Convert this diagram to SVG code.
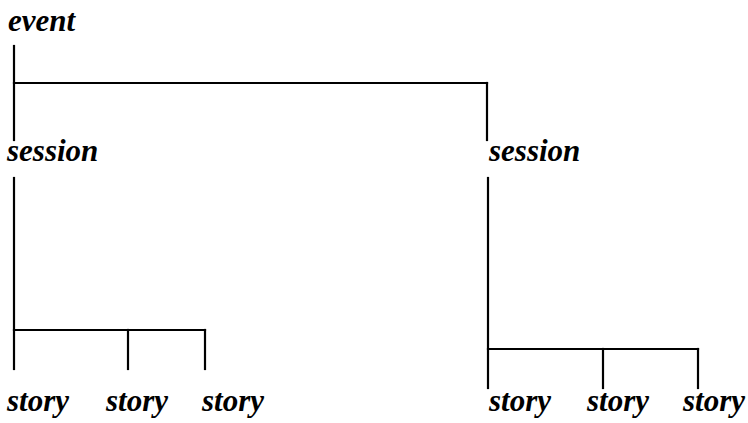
<svg xmlns="http://www.w3.org/2000/svg" width="748" height="423" viewBox="0 0 748 423">
<style>
.t{font-family:"Liberation Serif","Times New Roman",serif;font-style:italic;font-weight:bold;font-size:31px;fill:#000}
.c line{stroke:#000;stroke-width:2.2;stroke-linecap:square}
</style>
<rect width="748" height="423" fill="#fff"/>
<g class="c" id="connectors">
<line x1="14" y1="46" x2="14" y2="140"/>
<line x1="14" y1="83" x2="487" y2="83"/>
<line x1="487" y1="83" x2="487" y2="140"/>
<line x1="14" y1="178" x2="14" y2="369"/>
<line x1="14" y1="330" x2="205" y2="330"/>
<line x1="128" y1="330" x2="128" y2="369"/>
<line x1="205" y1="330" x2="205" y2="369"/>
<line x1="488" y1="178" x2="488" y2="388"/>
<line x1="488" y1="349" x2="698" y2="349"/>
<line x1="603" y1="349" x2="603" y2="388"/>
<line x1="698" y1="349" x2="698" y2="388"/>
</g>
<g id="event"><text class="t" x="8" y="31">event</text></g>
<g id="session1"><text class="t" x="7" y="161">session</text></g>
<g id="session2"><text class="t" x="489" y="161">session</text></g>
<g id="story1"><text class="t" x="7" y="411">story</text></g>
<g id="story2"><text class="t" x="106" y="411">story</text></g>
<g id="story3"><text class="t" x="202" y="411">story</text></g>
<g id="story4"><text class="t" x="489" y="411">story</text></g>
<g id="story5"><text class="t" x="587" y="411">story</text></g>
<g id="story6"><text class="t" x="683" y="411">story</text></g>
</svg>
